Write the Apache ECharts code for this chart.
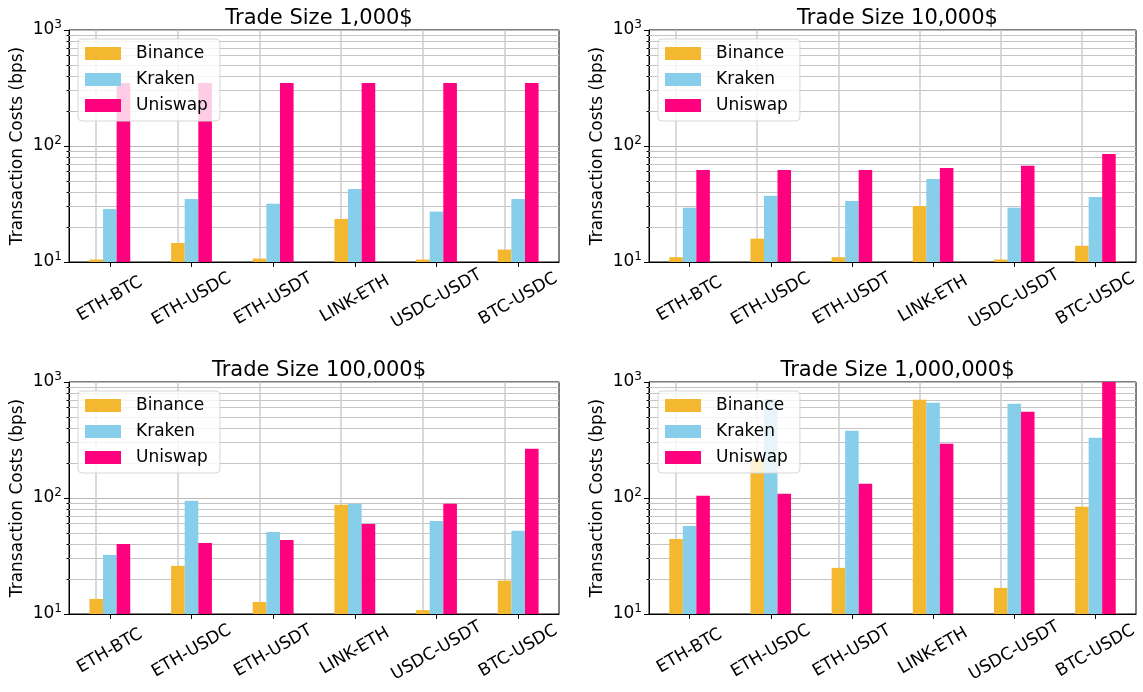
<!DOCTYPE html>
<html>
<head>
<meta charset="utf-8">
<script src="https://cdn.jsdelivr.net/npm/echarts@6/dist/echarts.min.js"></script>
<style>
  html, body { margin: 0; padding: 0; background: #fff; }
  #chart { width: 1143px; height: 692px; }
</style>
</head>
<body>
<div id="chart"></div>
<script>
// 数据
var categories = ['ETH-BTC', 'ETH-USDC', 'ETH-USDT', 'LINK-ETH', 'USDC-USDT', 'BTC-USDC'];
var exchanges = ['Binance', 'Kraken', 'Uniswap'];
var panelTitles = ['Trade Size 1,000$', 'Trade Size 10,000$', 'Trade Size 100,000$', 'Trade Size 1,000,000$'];

var binance1k = [10.5, 14.6, 10.7, 23.5, 10.5, 12.8];
var kraken1k = [28.6, 34.9, 31.8, 42.6, 27.2, 34.9];
var uniswap1k = [349, 349, 349, 349, 349, 349];

var binance10k = [11.0, 15.9, 11.0, 30.4, 10.5, 13.8];
var kraken10k = [29.4, 37.3, 33.6, 51.9, 29.4, 36.3];
var uniswap10k = [62.1, 62.1, 62.1, 64.6, 67.7, 85.3];

var binance100k = [13.5, 26.0, 12.7, 87.3, 10.8, 19.4];
var kraken100k = [32.3, 94.6, 51.0, 89.1, 63.5, 52.1];
var uniswap100k = [40.2, 41.0, 43.5, 59.8, 89.1, 265.7];

var binance1m = [44.4, 217, 25.0, 703, 16.8, 83.9];
var kraken1m = [57.5, 713, 380, 663, 650, 330];
var uniswap1m = [104.4, 108.6, 132.5, 293.6, 554, 1000];

// 对数轴次刻度 / 次网格线
var minorTickValues = [20, 30, 40, 50, 60, 70, 80, 90, 200, 300, 400, 500, 600, 700, 800, 900];

var panelData = [
  [binance1k, kraken1k, uniswap1k],
  [binance10k, kraken10k, uniswap10k],
  [binance100k, kraken100k, uniswap100k],
  [binance1m, kraken1m, uniswap1m]
];

var colors = ['#F3B82F', '#87CEEB', '#FF007F'];
var font = 'DejaVu Sans';

var grids = [
  { left: 69, top: 30, width: 490, height: 232 },
  { left: 649, top: 30, width: 487, height: 232 },
  { left: 69, top: 382, width: 490, height: 232 },
  { left: 649, top: 382, width: 487, height: 232 }
];

var myChart = echarts.init(document.getElementById('chart'), null, { renderer: 'canvas' });

var option = {
  animation: false,
  backgroundColor: '#fff',
  title: [],
  legend: [],
  grid: [],
  xAxis: [],
  yAxis: [],
  series: []
};

grids.forEach(function (g, i) {
  option.grid.push({
    left: g.left, top: g.top, width: g.width, height: g.height,
    show: true, borderColor: '#000', borderWidth: 1, backgroundColor: 'transparent'
  });

  option.title.push({
    text: panelTitles[i],
    left: g.left + g.width / 2,
    top: g.top - 27,
    textAlign: 'center',
    textStyle: { fontFamily: font, fontSize: 21, fontWeight: 'normal', color: '#000' }
  });

  option.legend.push({
    data: exchanges,
    orient: 'vertical',
    left: g.left + 9,
    top: g.top + 9,
    icon: 'rect',
    itemWidth: 36,
    itemHeight: 13,
    itemGap: 9,
    padding: [6, 12, 7, 7],
    backgroundColor: 'rgba(255,255,255,0.8)',
    borderColor: '#d6d6d6',
    borderWidth: 1,
    borderRadius: 4,
    selectedMode: false,
    textStyle: { fontFamily: font, fontSize: 17, color: '#000', padding: [0, 0, 0, 10] }
  });

  option.xAxis.push({
    type: 'category',
    gridIndex: i,
    data: categories,
    axisLine: { show: true, lineStyle: { color: '#000', width: 1 } },
    axisTick: { show: true, alignWithLabel: true, length: 5, lineStyle: { color: '#000' } },
    axisLabel: {
      interval: 0,
      rotate: 30,
      align: 'center',
      verticalAlign: 'middle',
      margin: 37,
      fontFamily: font,
      fontSize: 17,
      color: '#000'
    },
    splitLine: { show: false }
  });

  // 主对数轴
  option.yAxis.push({
    type: 'log',
    logBase: 10,
    gridIndex: i,
    min: 10,
    max: 1000,
    name: 'Transaction Costs (bps)',
    nameLocation: 'middle',
    nameGap: 43,
    nameTextStyle: { fontFamily: font, fontSize: 17, color: '#000' },
    axisLine: { show: true, lineStyle: { color: '#000', width: 1 } },
    axisTick: { show: true, length: 5, lineStyle: { color: '#000' } },
    axisLabel: {
      margin: 7,
      fontFamily: font,
      fontSize: 17,
      color: '#000',
      formatter: function (v) {
        return '10{sup|' + Math.round(Math.log10(v)) + '}';
      },
      rich: {
        sup: { fontFamily: font, fontSize: 12, color: '#000', padding: [0, 0, 10, 0] }
      }
    },
    splitLine: { show: true, lineStyle: { color: '#b8b8b8', width: 1 } }
  });

  // 次刻度轴 (只画短刻度)
  option.yAxis.push({
    type: 'log',
    logBase: 10,
    gridIndex: i,
    min: 10,
    max: 1000,
    position: 'left',
    axisLine: { show: false },
    axisTick: { show: true, length: 2.5, customValues: minorTickValues, lineStyle: { color: '#000' } },
    axisLabel: { show: false },
    splitLine: { show: false }
  });

  // 网格线 (次刻度 + 类目竖线)
  var gridLines = [];
  minorTickValues.forEach(function (v) {
    gridLines.push({ yAxis: v, lineStyle: { color: '#c4c4c4', width: 1, type: 'solid' } });
  });
  categories.forEach(function (c) {
    gridLines.push({ xAxis: c, lineStyle: { color: '#cccccc', width: 1.5, type: 'solid' } });
  });

  exchanges.forEach(function (name, j) {
    var s = {
      name: name,
      type: 'bar',
      xAxisIndex: i,
      yAxisIndex: 2 * i,
      data: panelData[i][j],
      barGap: '0%',
      barCategoryGap: '50%',
      itemStyle: { color: colors[j] },
      z: 2
    };
    if (j === 0) {
      s.markLine = {
        silent: true,
        z: 1,
        symbol: ['none', 'none'],
        label: { show: false },
        emphasis: { disabled: true },
        data: gridLines
      };
    }
    option.series.push(s);
  });
});

myChart.setOption(option);

window.addEventListener('resize', function () {
  myChart.resize();
});
</script>
</body>
</html>
